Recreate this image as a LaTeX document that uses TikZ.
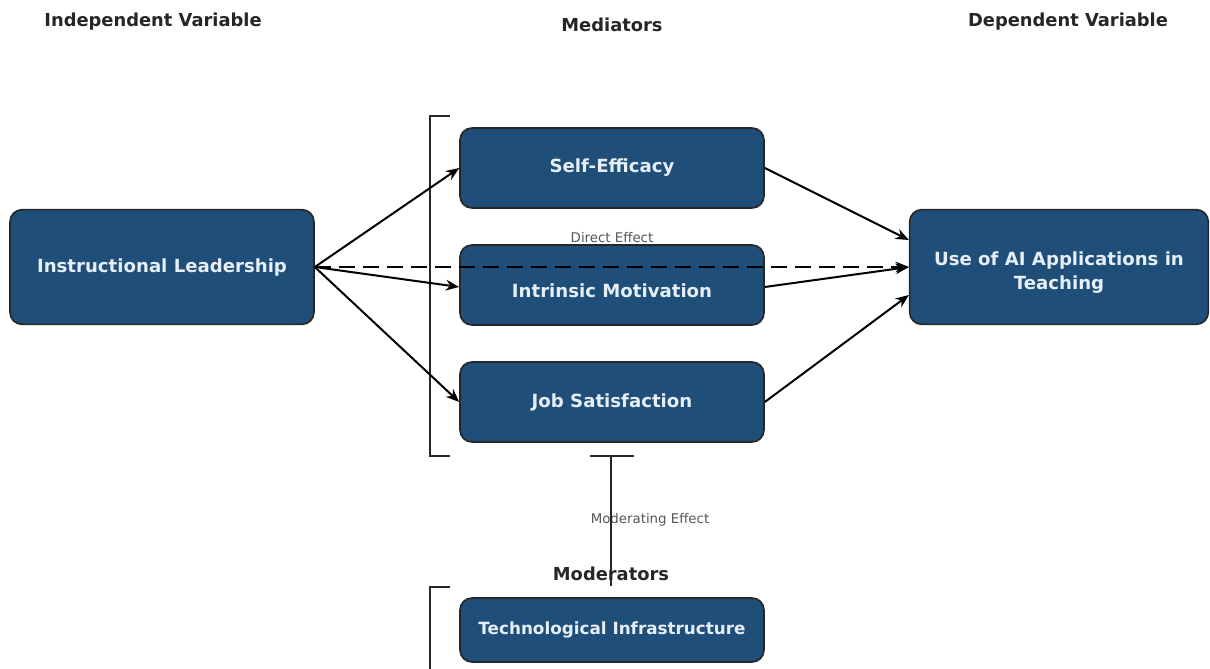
\documentclass[tikz,border=0pt]{standalone}
\usepackage{fontspec}
\setmainfont{DejaVu Sans}
\usetikzlibrary{arrows.meta,calc}
\definecolor{boxblue}{HTML}{1F4E79}
\definecolor{boxtext}{HTML}{E6EEF7}
\definecolor{labgrey}{HTML}{555555}
\tikzset{
  varbox/.style={draw=black!85, line width=1.2pt, fill=boxblue, rounded corners=9pt,
    text=boxtext, font=\bfseries\fontsize{13.6}{19}\selectfont, align=center,
    minimum width=228pt, minimum height=60pt, inner sep=2pt},
  header/.style={font=\bfseries\fontsize{13.4}{16}\selectfont, text=black!85},
  smalllab/.style={font=\fontsize{10}{12}\selectfont, text=labgrey},
  conn/.style={line width=1.5pt, -{Stealth[length=10pt,width=8pt]}},
  bracketline/.style={line width=1.5pt, black!85},
}
\begin{document}
\begin{tikzpicture}[x=0.75pt,y=-0.75pt]
\useasboundingbox (0,0) rectangle (1210,668);
% headers
\node[header] (h1) at (153,22) {Independent Variable};
\node[header] (h2) at (612,25) {Mediators};
\node[header] (h3) at (1068,22) {Dependent Variable};
% boxes
\node[varbox, minimum height=86pt] (il) at (162,267) {Instructional Leadership};
\node[varbox] (se) at (612,168) {Self-Efficacy};
\node[varbox] (im) at (612,285) {\raisebox{-9pt}[0pt][0pt]{Intrinsic Motivation}};
\node[varbox] (js) at (612,402) {Job Satisfaction};
\node[varbox, minimum width=224pt, minimum height=86pt] (ai) at (1059,267) {\raisebox{-7.5pt}[0pt][0pt]{\begin{tabular}{@{}c@{}}Use of AI Applications in\\[-1pt]Teaching\end{tabular}}};
\node[varbox, minimum height=48pt, font=\bfseries\fontsize{12.6}{15}\selectfont] (ti) at (612,630) {Technological Infrastructure};
% mediator bracket
\coordinate (mb1) at (450,116);
\coordinate (mb2) at (430,116);
\coordinate (mb3) at (430,456);
\coordinate (mb4) at (450,456);
\draw[bracketline] (mb1) -- (mb2) -- (mb3) -- (mb4);
% moderator bracket
\coordinate (ob1) at (450,587);
\coordinate (ob2) at (430,587);
\coordinate (ob3) at (430,672);
\draw[bracketline] (ob1) -- (ob2) -- (ob3);
% labels
\node[smalllab] (de) at (612,238) {Direct Effect};
\node[header] (mod) at (611,574) {Moderators};
\node[smalllab] (me) at (650,520) {Moderating Effect};
% moderating effect line
\coordinate (t1) at (590,456);
\coordinate (t2) at (634,456);
\coordinate (tm) at (611,456);
\coordinate (tb) at (611,586);
\draw[bracketline] (t1) -- (t2);
\draw[bracketline] (tm) -- (tb);
% arrows
\draw[conn] (il.east) -- (se.west);
\draw[conn] (il.east) -- ($(im.west)+(0,2)$);
\draw[conn] (il.east) -- (js.west);
\draw[conn] (se.east) -- ($(ai.west)+(0,-27)$);
\draw[conn] ($(im.east)+(0,2)$) -- (ai.west);
\draw[conn] (js.east) -- ($(ai.west)+(0,28)$);
\draw[conn, dash pattern=on 12pt off 6pt] (il.east) -- (ai.west);
\end{tikzpicture}
\end{document}
